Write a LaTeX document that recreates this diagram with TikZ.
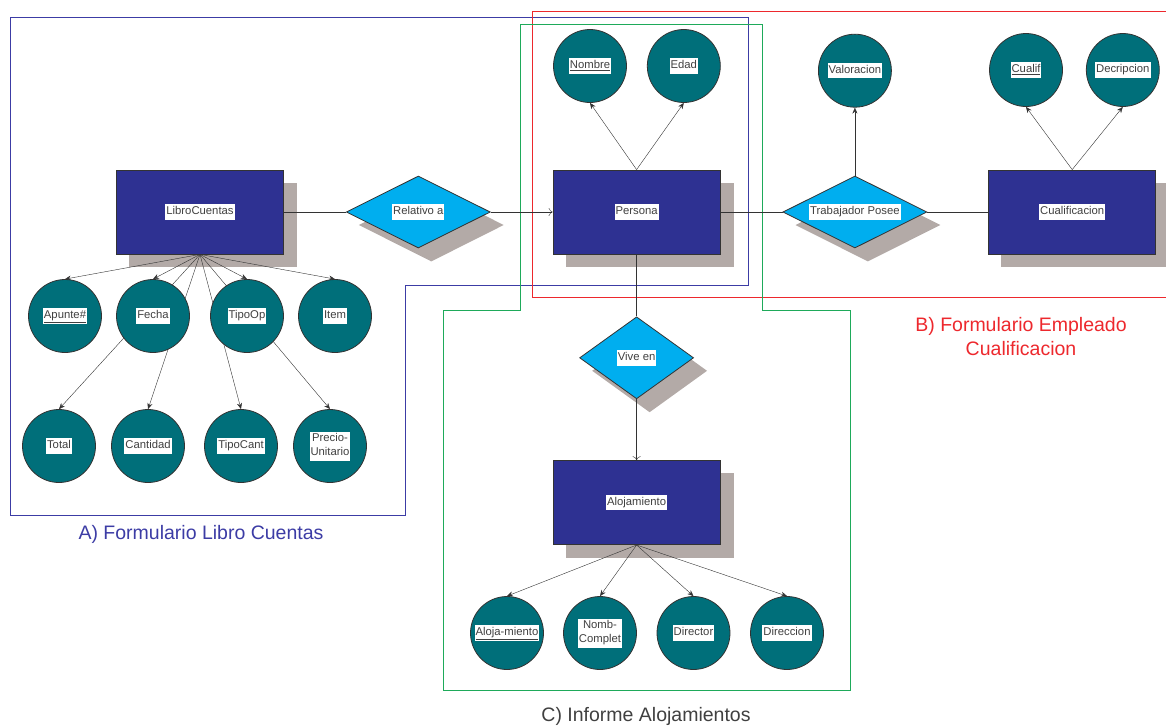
\documentclass[tikz,border=0pt]{standalone}
\usepackage{fontspec}
\setmainfont{Liberation Sans}
\usetikzlibrary{positioning,shapes.geometric,calc,arrows.meta}

\definecolor{azulent}{RGB}{46,49,146}
\definecolor{cianrel}{RGB}{0,174,239}
\definecolor{verdeatr}{RGB}{0,111,122}
\definecolor{sombragris}{RGB}{179,170,167}
\definecolor{lineagris}{RGB}{51,51,51}
\definecolor{textogris}{RGB}{64,64,64}
\definecolor{marcoazul}{RGB}{60,60,165}
\definecolor{marcorojo}{RGB}{237,40,45}
\definecolor{marcoverde}{RGB}{30,170,90}

\pgfdeclarelayer{fondo}
\pgfdeclarelayer{lineas}
\pgfsetlayers{fondo,lineas,main}

\newcommand{\etq}[1]{{\setlength{\fboxsep}{1pt}\colorbox{white}{\strut#1}}}
\newcommand{\etqdos}[2]{{\setlength{\fboxsep}{1pt}\colorbox{white}{\begin{tabular}{@{}c@{}}#1\\#2\end{tabular}}}}

\tikzset{
  entidad/.style={rectangle, draw=lineagris, fill=azulent, text=textogris,
    minimum width=167pt, minimum height=84pt, inner sep=0pt},
  relacion/.style={diamond, aspect=2, draw=lineagris, fill=cianrel, text=textogris,
    minimum width=144pt, minimum height=72pt, inner sep=0pt},
  atributo/.style={circle, draw=lineagris, fill=verdeatr, text=textogris,
    minimum size=73pt, inner sep=0pt},
  sombra/.style={fill=sombragris},
  flecha/.style={-{Stealth[length=6pt,width=5pt]}},
  abierta/.style={-{To[length=4pt,width=8pt]}},
  marco/.style={line width=0.9pt},
  titulo/.style={font=\fontsize{19.5}{24}\selectfont}
}

\begin{document}
\begin{tikzpicture}[x=1pt, y=-1pt, font=\fontsize{11.3}{13.5}\selectfont, line width=0.8pt]
  \useasboundingbox (0,0) rectangle (1166,726);

  \node[entidad] (libro) at (200,212) {\etq{LibroCuentas}};
  \node[relacion, right=62pt of libro] (relativo) {\etq{Relativo a}};
  \node[entidad, right=62pt of relativo] (persona) {\etq{Persona}};
  \node[relacion, right=62pt of persona] (trabajador) {\etq{Trabajador Posee}};
  \node[entidad, right=61pt of trabajador] (cualificacion) {\etq{Cualificacion}};
  \node[relacion, below=62pt of persona, aspect=1.4, minimum width=114pt, minimum height=82pt] (vive) {\etq{Vive en}};
  \node[entidad, below=61pt of vive] (alojamiento) {\etq{Alojamiento}};

  \node[atributo] (nombre) at (590,66) {\etq{\underline{Nombre}}};
  \node[atributo, right=20pt of nombre] (edad) {\etq{Edad}};
  \node[atributo, above=68pt of trabajador] (valoracion) {\etq{Valoracion}};
  \node[atributo] (cualif) at (1026,70) {\etq{\underline{Cualif}}};
  \node[atributo, right=23pt of cualif] (decripcion) {\etq{Decripcion}};

  \node[atributo] (apunte) at (65,316) {\etq{\underline{Apunte\#}}};
  \node[atributo] (fecha) at (153,316) {\etq{Fecha}};
  \node[atributo] (tipoop) at (247,316) {\etq{TipoOp}};
  \node[atributo] (item) at (335,316) {\etq{Item}};
  \node[atributo] (total) at (59,446) {\etq{Total}};
  \node[atributo] (cantidad) at (148,446) {\etq{Cantidad}};
  \node[atributo] (tipocant) at (241,446) {\etq{TipoCant}};
  \node[atributo] (precio) at (330,446) {\etqdos{Precio-}{Unitario}};

  \node[atributo] (alojam) at (507,633) {\etq{\underline{Aloja-miento}}};
  \node[atributo] (nombcompl) at (600,633) {\etqdos{Nomb-}{Complet}};
  \node[atributo] (director) at (693.5,633) {\etq{Director}};
  \node[atributo] (direccion) at (787,633) {\etq{Direccion}};

  \node[titulo, text=marcoazul] (tituloA) at (201,534) {A) Formulario Libro Cuentas};
  \node[titulo, text=marcorojo, align=center] (tituloB) at (1021,337) {B) Formulario Empleado\\Cualificacion};
  \node[titulo, text=textogris] (tituloC) at (646,716) {C) Informe Alojamientos};

  \begin{pgfonlayer}{fondo}
    \draw[marco, marcoazul] (10,17) -| (748,285) -| (405,515) -- (10,515) -- cycle;
    \draw[marco, marcorojo] (1172,11) -| (532,297) -- (1172,297);
    \draw[marco, marcoverde] (520,310) |- (762,24) -- (762,310) -| (850,690) -| (443,310) -- cycle;
    \foreach \n in {libro,persona,cualificacion,alojamiento}
      \fill[sombra] ($(\n.south west)+(13,13)$) rectangle ($(\n.north east)+(13,13)$);
    \foreach \n in {relativo,trabajador,vive}
      \fill[sombra] ($(\n.north)+(13,13)$) -- ($(\n.east)+(13,13)$)
        -- ($(\n.south)+(13,13)$) -- ($(\n.west)+(13,13)$) -- cycle;
  \end{pgfonlayer}

  \begin{pgfonlayer}{lineas}
  \begin{scope}[color=lineagris]
    \draw (libro) -- (relativo);
    \draw[abierta] (relativo) -- (persona);
    \draw (persona) -- (trabajador);
    \draw (trabajador) -- (cualificacion);
    \draw (persona) -- (vive);
    \draw[abierta] (vive) -- (alojamiento);

    \path[flecha]
      (libro.south)
        edge (apunte.north)
        edge (fecha.north)
        edge (tipoop.north)
        edge (item.north)
        edge (total.north)
        edge (cantidad.north)
        edge (tipocant.north)
        edge (precio.north)
      (persona.north)
        edge (nombre.south)
        edge (edad.south)
      (trabajador.north) edge (valoracion.south)
      (cualificacion.north)
        edge (cualif.south)
        edge (decripcion.south)
      (alojamiento.south)
        edge (alojam.north)
        edge (nombcompl.north)
        edge (director.north)
        edge (direccion.north);
  \end{scope}
  \end{pgfonlayer}
\end{tikzpicture}
\end{document}
